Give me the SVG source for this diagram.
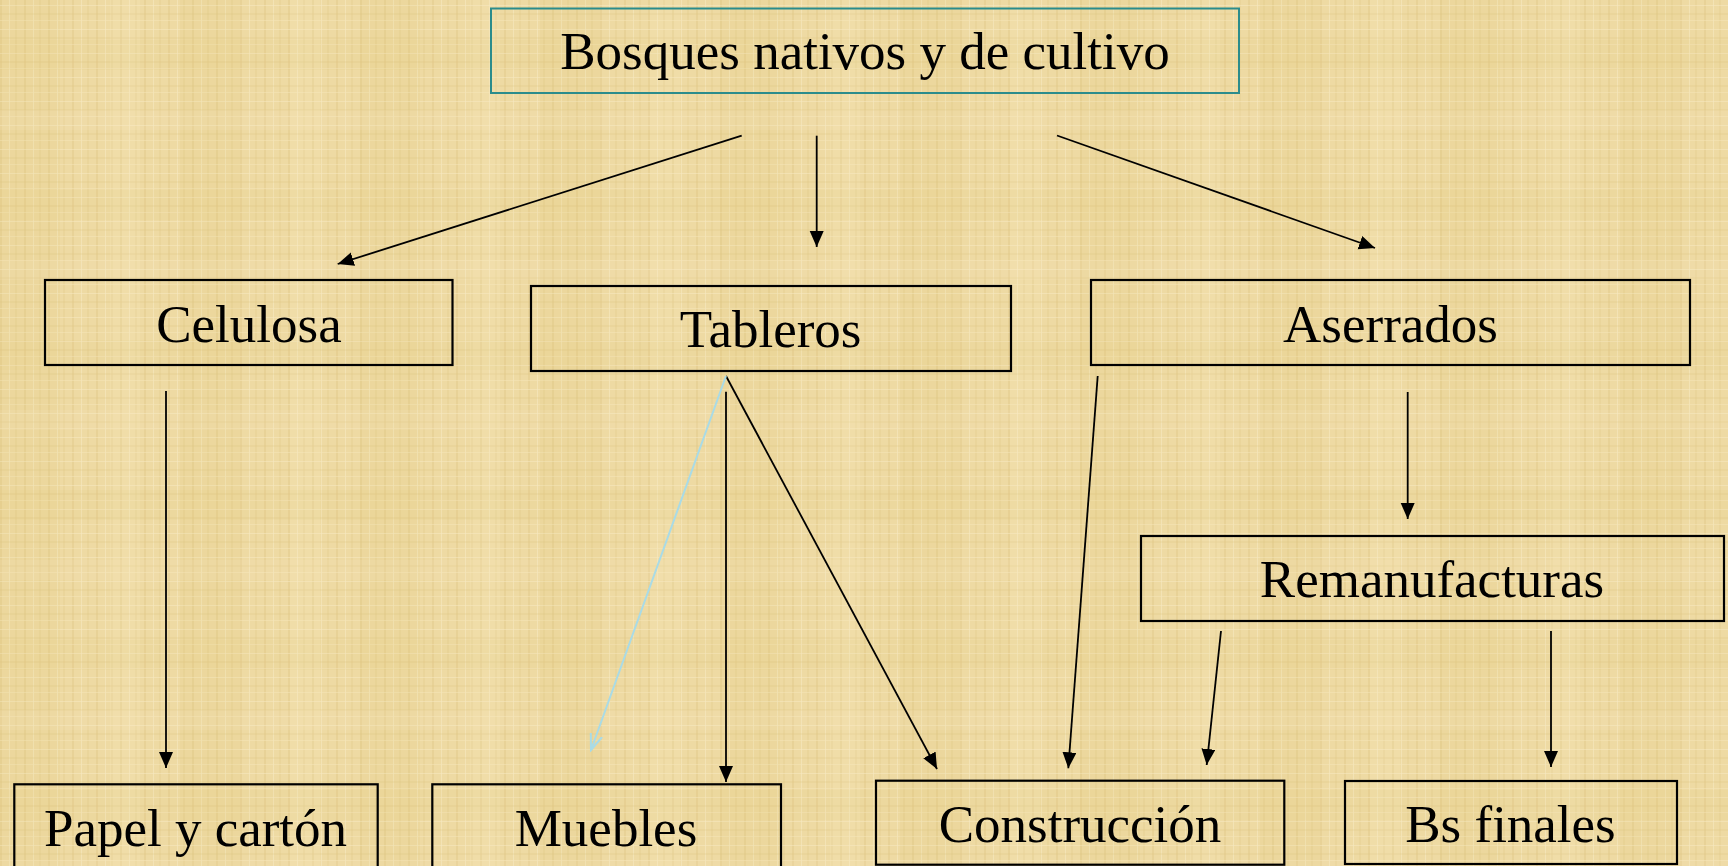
<svg xmlns="http://www.w3.org/2000/svg" width="1728" height="866" viewBox="0 0 1728 866">
<defs>
<style>
.box{fill:none;stroke:#000;stroke-width:2.2}
.top{fill:none;stroke:#2b8c8c;stroke-width:2}
.lbl{font-family:"Liberation Serif","Times New Roman",serif;font-size:53px;fill:#000;text-anchor:middle}
.c{stroke:#000;stroke-width:1.8;fill:none;marker-end:url(#ah)}
.cb{stroke:#a9dbe6;stroke-width:2;fill:none;marker-end:url(#ahb)}
</style>
<marker id="ah" markerUnits="userSpaceOnUse" markerWidth="17" markerHeight="15" refX="16" refY="7" orient="auto">
<path d="M0,0 L16,7 L0,14 Z" fill="#000"/>
</marker>
<marker id="ahb" markerUnits="userSpaceOnUse" markerWidth="18" markerHeight="16" refX="16" refY="7" orient="auto">
<path d="M0,1 L16,7 L0,13" fill="none" stroke="#a9dbe6" stroke-width="2"/>
</marker>
<pattern id="weave" width="24" height="24" patternUnits="userSpaceOnUse">
<rect width="24" height="24" fill="#eedaa3"/>
<rect x="0" y="0" width="2" height="24" fill="#dcc27c" opacity="0.3"/>
<rect x="9" y="0" width="1" height="24" fill="#f7e9c2" opacity="0.6"/>
<rect x="15" y="0" width="2" height="24" fill="#dfc684" opacity="0.25"/>
<rect x="0" y="5" width="24" height="1" fill="#f7eac4" opacity="0.5"/>
<rect x="0" y="13" width="24" height="2" fill="#dcc27e" opacity="0.2"/>
<rect x="0" y="20" width="24" height="1" fill="#f6e6ba" opacity="0.5"/>
</pattern>
<pattern id="bands" width="180" height="150" patternUnits="userSpaceOnUse">
<rect x="0" y="0" width="60" height="150" fill="#d6b867" opacity="0.09"/>
<rect x="110" y="0" width="30" height="150" fill="#f8eac4" opacity="0.15"/>
<rect x="0" y="40" width="180" height="30" fill="#d9bb6b" opacity="0.07"/>
<rect x="0" y="110" width="180" height="20" fill="#f9edcb" opacity="0.12"/>
</pattern>
</defs>
<rect width="1728" height="866" fill="url(#weave)"/>
<rect width="1728" height="866" fill="url(#bands)"/>

<g id="connectors">
<line class="c" x1="741.7" y1="135.7" x2="337.7" y2="264"/>
<line class="c" x1="816.7" y1="135.7" x2="816.7" y2="247"/>
<line class="c" x1="1057" y1="135.5" x2="1375" y2="248"/>
<line class="c" x1="166" y1="391" x2="166" y2="768"/>
<line class="c" x1="726" y1="391.7" x2="726" y2="782"/>
<line class="c" x1="726" y1="376" x2="937" y2="769"/>
<line class="cb" x1="726" y1="376" x2="591" y2="750"/>
<line class="c" x1="1097.7" y1="376" x2="1068.3" y2="768.3"/>
<line class="c" x1="1407.7" y1="392" x2="1407.7" y2="519"/>
<line class="c" x1="1221" y1="631" x2="1206.7" y2="765"/>
<line class="c" x1="1551" y1="631" x2="1551" y2="767"/>
</g>

<g id="bosques">
<rect class="top" x="491" y="8.5" width="748" height="84.5"/>
<text class="lbl" x="865" y="69">Bosques nativos y de cultivo</text>
</g>
<g id="celulosa">
<rect class="box" x="45" y="280" width="407.5" height="85"/>
<text class="lbl" x="249" y="341.7">Celulosa</text>
</g>
<g id="tableros">
<rect class="box" x="531" y="286" width="480" height="85"/>
<text class="lbl" x="770.6" y="346.7">Tableros</text>
</g>
<g id="aserrados">
<rect class="box" x="1091" y="280" width="599" height="85"/>
<text class="lbl" x="1390.5" y="341.7">Aserrados</text>
</g>
<g id="remanufacturas">
<rect class="box" x="1141" y="536" width="583" height="85"/>
<text class="lbl" x="1432" y="596.7">Remanufacturas</text>
</g>
<g id="papel">
<rect class="box" x="14.3" y="784.3" width="363.4" height="90"/>
<text class="lbl" x="195.5" y="845.7">Papel y cartón</text>
</g>
<g id="muebles">
<rect class="box" x="432.3" y="784.3" width="348.7" height="90"/>
<text class="lbl" x="606" y="845.7">Muebles</text>
</g>
<g id="construccion">
<rect class="box" x="876" y="780.7" width="408.3" height="84"/>
<text class="lbl" x="1080" y="842">Construcción</text>
</g>
<g id="bsfinales">
<rect class="box" x="1345" y="781" width="332" height="83"/>
<text class="lbl" x="1510.5" y="841.7">Bs finales</text>
</g>
</svg>
